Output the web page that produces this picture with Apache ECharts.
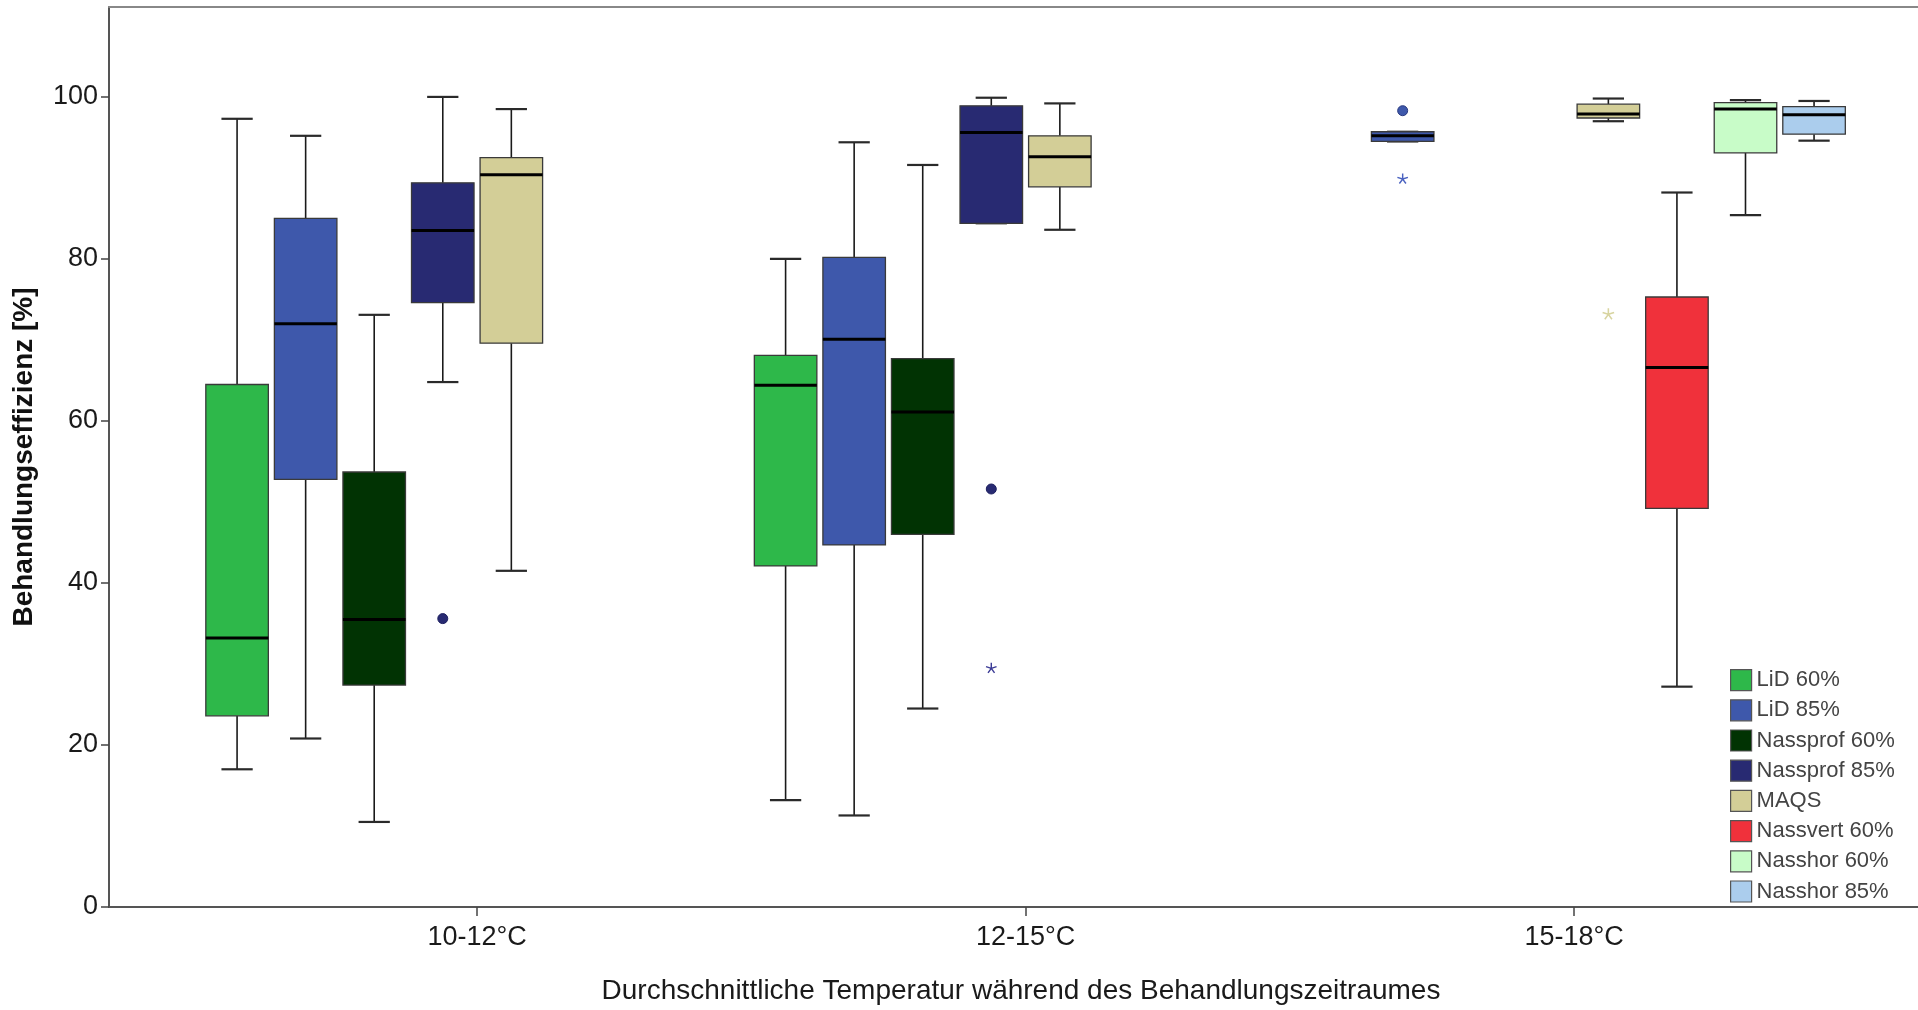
<!DOCTYPE html>
<html>
<head>
<meta charset="utf-8">
<script src="https://cdn.jsdelivr.net/npm/echarts@6/dist/echarts.min.js"></script>
<style>
  html, body { margin: 0; padding: 0; background: #fff; }
  #chart { width: 1918px; height: 1010px; }
</style>
</head>
<body>
<div id="chart"></div>
<script>
// ---- data ----
const categories = ['10-12°C', '12-15°C', '15-18°C'];
const seriesNames = ['LiD 60%', 'LiD 85%', 'Nassprof 60%', 'Nassprof 85%', 'MAQS', 'Nassvert 60%', 'Nasshor 60%', 'Nasshor 85%'];
const seriesColors = ['#2EB84A', '#3E58AB', '#013303', '#282A72', '#D3CE97', '#F0313B', '#C8FCC8', '#ABCDED'];
// per category: [min, Q1, median, Q3, max] (null = no box)
const lid60 = [[17.0, 23.6, 33.2, 64.5, 97.3], [13.2, 42.1, 64.4, 68.1, 80.0], null];
const lid85 = [[20.8, 52.8, 72.0, 85.0, 95.2], [11.3, 44.7, 70.1, 80.2, 94.4], [94.5, 94.5, 95.2, 95.7, 95.7]];
const nassprof60 = [[10.5, 27.4, 35.5, 53.7, 73.1], [24.5, 46.0, 61.1, 67.7, 91.6], null];
const nassprof85 = [[64.8, 74.6, 83.5, 89.4, 100.0], [84.4, 84.4, 95.6, 98.9, 99.9], null];
const maqs = [[41.5, 69.6, 90.4, 92.5, 98.5], [83.6, 88.9, 92.6, 95.2, 99.2], [97.0, 97.4, 97.9, 99.1, 99.8]];
const nassvert60 = [null, null, [27.2, 49.2, 66.6, 75.3, 88.2]];
const nasshor60 = [null, null, [85.4, 93.1, 98.5, 99.3, 99.6]];
const nasshor85 = [null, null, [94.6, 95.4, 97.8, 98.8, 99.5]];
const boxData = [lid60, lid85, nassprof60, nassprof85, maqs, nassvert60, nasshor60, nasshor85];
// outliers: [categoryIndex, value]
const lid85Circles = [[2, 98.3]];
const lid85Stars = [[2, 89.9]];
const nassprof85Circles = [[0, 35.6], [1, 51.6]];
const nassprof85Stars = [[1, 29.5]];
const maqsStars = [[2, 73.2]];
const yTicks = [0, 20, 40, 60, 80, 100];
const yName = 'Behandlungseffizienz [%]';
const xName = 'Durchschnittliche Temperatur während des Behandlungszeitraumes';

// ---- layout helpers ----
const SLOTS = 8;
const BOX_W = 0.114;
function slotX(cat, slot) { return cat + 1 + (slot - (SLOTS - 1) / 2) / SLOTS; }

function asteriskPath() {
  let d = '';
  const w = 0.13;
  for (let i = 0; i < 5; i++) {
    const a = (-90 + 72 * i) * Math.PI / 180;
    const ca = Math.cos(a), sa = Math.sin(a);
    const px = -sa, py = ca;
    const pts = [[px * w, py * w], [ca + px * w, sa + py * w], [ca - px * w, sa - py * w], [-px * w, -py * w]];
    d += 'M' + pts.map(p => (p[0] * 50 + 50).toFixed(2) + ' ' + (p[1] * 50 + 50).toFixed(2)).join(' L') + ' Z ';
  }
  return 'path://' + d;
}
const STAR = asteriskPath();

function makeRender(slot) {
  return function (params, api) {
    const cat = api.value(0);
    const xc = slotX(cat, slot);
    const cx = api.coord([xc, 0])[0];
    const bw = api.size([BOX_W, 0])[0];
    const capW = bw * 0.5;
    const yy = i => api.coord([xc, api.value(i)])[1];
    const yLo = yy(1), yQ1 = yy(2), yMed = yy(3), yQ3 = yy(4), yHi = yy(5);
    const color = api.visual('color');
    const wStyle = { stroke: '#1a1a1a', lineWidth: 1.6 };
    const cStyle = { stroke: '#2a2a2a', lineWidth: 2.2 };
    return {
      type: 'group',
      children: [
        { type: 'line', shape: { x1: cx, y1: yHi, x2: cx, y2: yQ3 }, style: wStyle },
        { type: 'line', shape: { x1: cx, y1: yQ1, x2: cx, y2: yLo }, style: wStyle },
        { type: 'line', shape: { x1: cx - capW / 2, y1: yHi, x2: cx + capW / 2, y2: yHi }, style: cStyle },
        { type: 'line', shape: { x1: cx - capW / 2, y1: yLo, x2: cx + capW / 2, y2: yLo }, style: cStyle },
        { type: 'rect', shape: { x: cx - bw / 2, y: yQ3, width: bw, height: yQ1 - yQ3 }, style: { fill: color, stroke: '#3a3a3a', lineWidth: 1.3 } },
        { type: 'line', shape: { x1: cx - bw / 2, y1: yMed, x2: cx + bw / 2, y2: yMed }, style: { stroke: '#000', lineWidth: 3 } }
      ]
    };
  };
}

const series = seriesNames.map((name, s) => ({
  name: name,
  type: 'custom',
  renderItem: makeRender(s),
  itemStyle: { color: seriesColors[s] },
  data: boxData[s].map((v, c) => v ? [c].concat(v) : null).filter(Boolean),
  encode: { x: 0, y: [1, 2, 3, 4, 5] },
  silent: true
}));

function outlierSeries(name, pts, slot, symbol, color, size, border) {
  return {
    name: name,
    type: 'scatter',
    symbol: symbol,
    symbolSize: size,
    symbolKeepAspect: true,
    itemStyle: { color: color, borderColor: border || color, borderWidth: border ? 1 : 0, opacity: 1 },
    data: pts.map(p => [slotX(p[0], slot), p[1]]),
    silent: true,
    z: 5
  };
}
series.push(outlierSeries('o1', lid85Circles, 1, 'circle', '#3E58AB', 10, '#2a3a80'));
series.push(outlierSeries('o2', lid85Stars, 1, STAR, '#4a62c0', 11));
series.push(outlierSeries('o3', nassprof85Circles, 3, 'circle', '#282A72', 10, '#1e2060'));
series.push(outlierSeries('o4', nassprof85Stars, 3, STAR, '#3c3c96', 11));
series.push(outlierSeries('o5', maqsStars, 4, STAR, '#D8D4A0', 12));

const chart = echarts.init(document.getElementById('chart'), null, { renderer: 'canvas' });
const FONT = 'Liberation Sans, Arial, sans-serif';
chart.setOption({
  animation: false,
  backgroundColor: '#ffffff',
  grid: { left: 109, right: 0, top: 7, bottom: 96, containLabel: false },
  legend: {
    data: seriesNames,
    orient: 'vertical',
    left: 1725,
    top: 664,
    icon: 'rect',
    itemWidth: 21,
    itemHeight: 21,
    itemGap: 8,
    itemStyle: { borderColor: '#555', borderWidth: 1.2 },
    textStyle: { fontFamily: FONT, fontSize: 22, color: '#444', lineHeight: 22 },
    selectedMode: false
  },
  xAxis: [{
    type: 'value',
    min: 0.329,
    max: 3.627,
    position: 'bottom',
    splitLine: { show: false },
    axisLine: { show: true, onZero: false, lineStyle: { color: '#555', width: 2 } },
    axisTick: { show: true, customValues: [1, 2, 3], length: 9, lineStyle: { color: '#444', width: 1.5 } },
    axisLabel: {
      customValues: [1, 2, 3],
      formatter: v => categories[Math.round(v) - 1] || '',
      margin: 17,
      fontFamily: FONT, fontSize: 27, color: '#1a1a1a'
    },
    name: xName,
    nameLocation: 'middle',
    nameGap: 70,
    nameTextStyle: { fontFamily: FONT, fontSize: 28, color: '#1a1a1a', padding: [0, 0, 0, 15] }
  }, {
    type: 'value',
    min: 0.329,
    max: 3.627,
    position: 'top',
    splitLine: { show: false },
    axisLine: { show: true, onZero: false, lineStyle: { color: '#888', width: 2 } },
    axisTick: { show: false },
    axisLabel: { show: false }
  }],
  yAxis: {
    type: 'value',
    min: 0,
    max: 111.1,
    splitLine: { show: false },
    axisLine: { show: true, onZero: false, lineStyle: { color: '#555', width: 2 } },
    axisTick: { show: true, customValues: yTicks, length: 8, lineStyle: { color: '#444', width: 1.5 } },
    axisLabel: {
      customValues: yTicks,
      margin: 11,
      fontFamily: FONT, fontSize: 27, color: '#1a1a1a'
    },
    name: yName,
    nameLocation: 'middle',
    nameGap: 71,
    nameTextStyle: { fontFamily: FONT, fontSize: 28, fontWeight: 'bold', color: '#111' }
  },
  series: series
});
</script>
</body>
</html>
